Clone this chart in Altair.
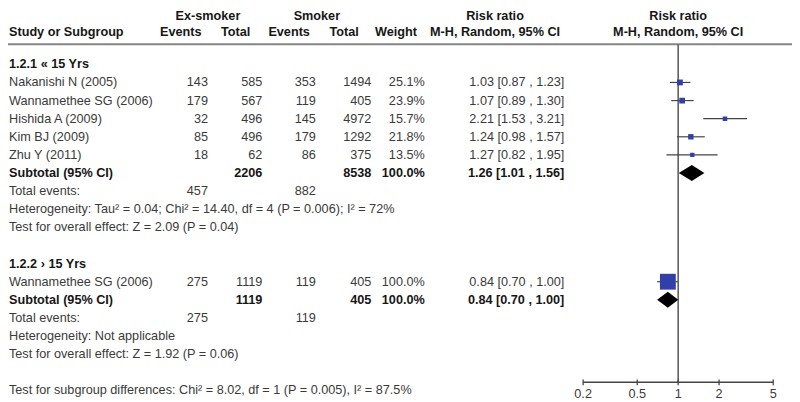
import altair as alt
import numpy as np
import pandas as pd

# ---------------- data ----------------
groups = ["1.2.1 « 15 Yrs", "1.2.2 › 15 Yrs"]
study_names = ["Nakanishi N (2005)", "Wannamethee SG (2006)", "Hishida A (2009)",
               "Kim BJ (2009)", "Zhu Y (2011)", "Wannamethee SG (2006)"]
study_group = [0, 0, 0, 0, 0, 1]
ex_events = [143, 179, 32, 85, 18, 275]
ex_total = [585, 567, 496, 496, 62, 1119]
sm_events = [353, 119, 145, 179, 86, 119]
sm_total = [1494, 405, 4972, 1292, 375, 405]
weights = [25.1, 23.9, 15.7, 21.8, 13.5, 100.0]
rr = [1.03, 1.07, 2.21, 1.24, 1.27, 0.84]
rr_lo = [0.87, 0.89, 1.53, 0.98, 0.82, 0.70]
rr_hi = [1.23, 1.30, 3.21, 1.57, 1.95, 1.00]

sub_ex_events = [457, 275]
sub_sm_events = [882, 119]
sub_ex_total = [2206, 1119]
sub_sm_total = [8538, 405]
sub_weight = [100.0, 100.0]
sub_rr = [1.26, 0.84]
sub_lo = [1.01, 0.70]
sub_hi = [1.56, 1.00]
heterogeneity = ["Heterogeneity: Tau² = 0.04; Chi² = 14.40, df = 4 (P = 0.006); I² = 72%",
                 "Heterogeneity: Not applicable"]
overall_effect = ["Test for overall effect: Z = 2.09 (P = 0.04)",
                  "Test for overall effect: Z = 1.92 (P = 0.06)"]
subgroup_test = "Test for subgroup differences: Chi² = 8.02, df = 1 (P = 0.005), I² = 87.5%"
axis_ticks = [0.2, 0.5, 1, 2, 5]
axis_labels = ["0.2", "0.5", "1", "2", "5"]

# ---------------- layout ----------------
W, H = 792, 394
ROW = 18.3
FONT = "Liberation Sans"
FS = 12.8
REG = "#3a3a3a"
BOLD = "#161616"
group_start = [3, 14]
test_row = 21

k = 192 / np.log10(25)          # px per decade
x02 = 581.0                     # pixel of 0.2
v0 = 0.2 * 10 ** (-x02 / k)
v1 = 5 * 10 ** ((W - (x02 + 192)) / k)
xsc = alt.Scale(type="log", domain=[float(v0), float(v1)], nice=False, zero=False)
ysc = alt.Scale(domain=[0, H / ROW], reverse=True, nice=False, zero=False)

cols = {
    "name": (1, "left"),
    "exev": (202, "right"),
    "extot": (257, "right"),
    "smev": (311, "right"),
    "smtot": (367, "right"),
    "wt": (421, "right"),
    "rr": (562, "right"),
}

recs = []
def add(row, col, text, bold=False):
    recs.append(dict(row=row, col=col, text=str(text), bold=bold))

frows = []
drows = []
for g in range(2):
    r = group_start[g]
    add(r, "name", groups[g], True)
    r += 1
    for i, sg in enumerate(study_group):
        if sg != g:
            continue
        add(r, "name", study_names[i])
        add(r, "exev", ex_events[i])
        add(r, "extot", ex_total[i])
        add(r, "smev", sm_events[i])
        add(r, "smtot", sm_total[i])
        add(r, "wt", f"{weights[i]:.1f}%")
        add(r, "rr", f"{rr[i]:.2f} [{rr_lo[i]:.2f} , {rr_hi[i]:.2f}]")
        frows.append(dict(row=r, rr=rr[i], lo=rr_lo[i], hi=rr_hi[i], weight=weights[i]))
        r += 1
    add(r, "name", "Subtotal (95% CI)", True)
    add(r, "extot", sub_ex_total[g], True)
    add(r, "smtot", sub_sm_total[g], True)
    add(r, "wt", f"{sub_weight[g]:.1f}%", True)
    add(r, "rr", f"{sub_rr[g]:.2f} [{sub_lo[g]:.2f} , {sub_hi[g]:.2f}]", True)
    hd = 0.44
    drows += [dict(grp=g, x=sub_lo[g], y1=r, y2=r),
              dict(grp=g, x=sub_rr[g], y1=r - hd, y2=r + hd),
              dict(grp=g, x=sub_hi[g], y1=r, y2=r)]
    r += 1
    add(r, "name", "Total events:")
    add(r, "exev", sub_ex_events[g])
    add(r, "smev", sub_sm_events[g])
    r += 1
    add(r, "name", heterogeneity[g])
    r += 1
    add(r, "name", overall_effect[g])
add(test_row, "name", subgroup_test)

tdf = pd.DataFrame(recs)
fdf = pd.DataFrame(frows)
ddf = pd.DataFrame(drows)

layers = []

# header rule
layers.append(alt.Chart(pd.DataFrame({"a": [0]})).mark_rule(color="#858585", strokeWidth=2).encode(
    x=alt.value(0), x2=alt.value(W), y=alt.value(34.5)))

# header texts
hdr = [
    ("Ex-smoker", 202, 6, "center"), ("Smoker", 312, 6, "center"),
    ("Risk ratio", 492, 6, "center"), ("Risk ratio", 677, 6, "center"),
    ("Study or Subgroup", 1, 22, "left"),
    ("Events", 174.5, 22, "center"), ("Total", 230, 22, "center"),
    ("Events", 284, 22, "center"), ("Total", 339.5, 22, "center"),
    ("Weight", 392, 22, "center"),
    ("M-H, Random, 95% CI", 492, 22, "center"), ("M-H, Random, 95% CI", 677, 22, "center"),
]
for txt, hx, hy, al in hdr:
    layers.append(alt.Chart(pd.DataFrame({"t": [txt]})).mark_text(
        align=al, baseline="middle", font=FONT, fontSize=FS, fontWeight="bold", color=BOLD
    ).encode(x=alt.value(hx), y=alt.value(hy), text="t:N"))

# table texts
for c, (cx, al) in cols.items():
    for b in (False, True):
        sub = tdf[(tdf.col == c) & (tdf.bold == b)]
        if sub.empty:
            continue
        layers.append(alt.Chart(sub).mark_text(
            align=al, baseline="middle", font=FONT, fontSize=FS,
            fontWeight="bold" if b else "normal", color=BOLD if b else REG
        ).encode(x=alt.value(cx), y=alt.Y("row:Q", scale=ysc, axis=None), text="text:N"))

# vertical line of no effect
layers.append(alt.Chart(pd.DataFrame({"x": [1.0], "y1": [1.91], "y2": [20.55]})).mark_rule(
    color="#555555", strokeWidth=1.5).encode(
    x=alt.X("x:Q", scale=xsc, axis=None),
    y=alt.Y("y1:Q", scale=ysc, axis=None), y2="y2:Q"))

# axis
adf = pd.DataFrame({"lo": [axis_ticks[0]], "hi": [axis_ticks[-1]], "row": [20.55]})
layers.append(alt.Chart(adf).mark_rule(color="#444444", strokeWidth=1.3).encode(
    x=alt.X("lo:Q", scale=xsc, axis=None), x2="hi:Q",
    y=alt.Y("row:Q", scale=ysc, axis=None)))
tdf2 = pd.DataFrame({"t": axis_ticks, "lab": axis_labels, "y1": [20.4] * 5, "y2": [20.72] * 5,
                     "ly": [21.2] * 5})
layers.append(alt.Chart(tdf2).mark_rule(color="#444444", strokeWidth=1.3).encode(
    x=alt.X("t:Q", scale=xsc, axis=None),
    y=alt.Y("y1:Q", scale=ysc, axis=None), y2="y2:Q"))
layers.append(alt.Chart(tdf2).mark_text(
    align="center", baseline="middle", font=FONT, fontSize=FS, color=REG).encode(
    x=alt.X("t:Q", scale=xsc, axis=None),
    y=alt.Y("ly:Q", scale=ysc, axis=None), text="lab:N"))

# CI lines
layers.append(alt.Chart(fdf).mark_rule(color="#444444", strokeWidth=1.2).encode(
    x=alt.X("lo:Q", scale=xsc, axis=None), x2="hi:Q",
    y=alt.Y("row:Q", scale=ysc, axis=None)))
# squares
layers.append(alt.Chart(fdf).transform_calculate(
    sz="pow(2.5 + 0.135*datum.weight, 2)").mark_square(
    filled=True, color="#3040a8", opacity=1).encode(
    x=alt.X("rr:Q", scale=xsc, axis=None),
    y=alt.Y("row:Q", scale=ysc, axis=None),
    size=alt.Size("sz:Q", scale=None, legend=None)))
# diamonds
layers.append(alt.Chart(ddf).mark_area(color="black", opacity=1).encode(
    x=alt.X("x:Q", scale=xsc, axis=None),
    y=alt.Y("y1:Q", scale=ysc, axis=None), y2="y2:Q",
    detail="grp:N"))

chart = alt.layer(*layers).properties(
    width=W, height=H, padding=0, autosize=alt.AutoSizeParams(type="none"),
    background="white"
).configure_view(stroke=None)

chart.save("out.html", embed_options={"renderer": "svg", "actions": False})
